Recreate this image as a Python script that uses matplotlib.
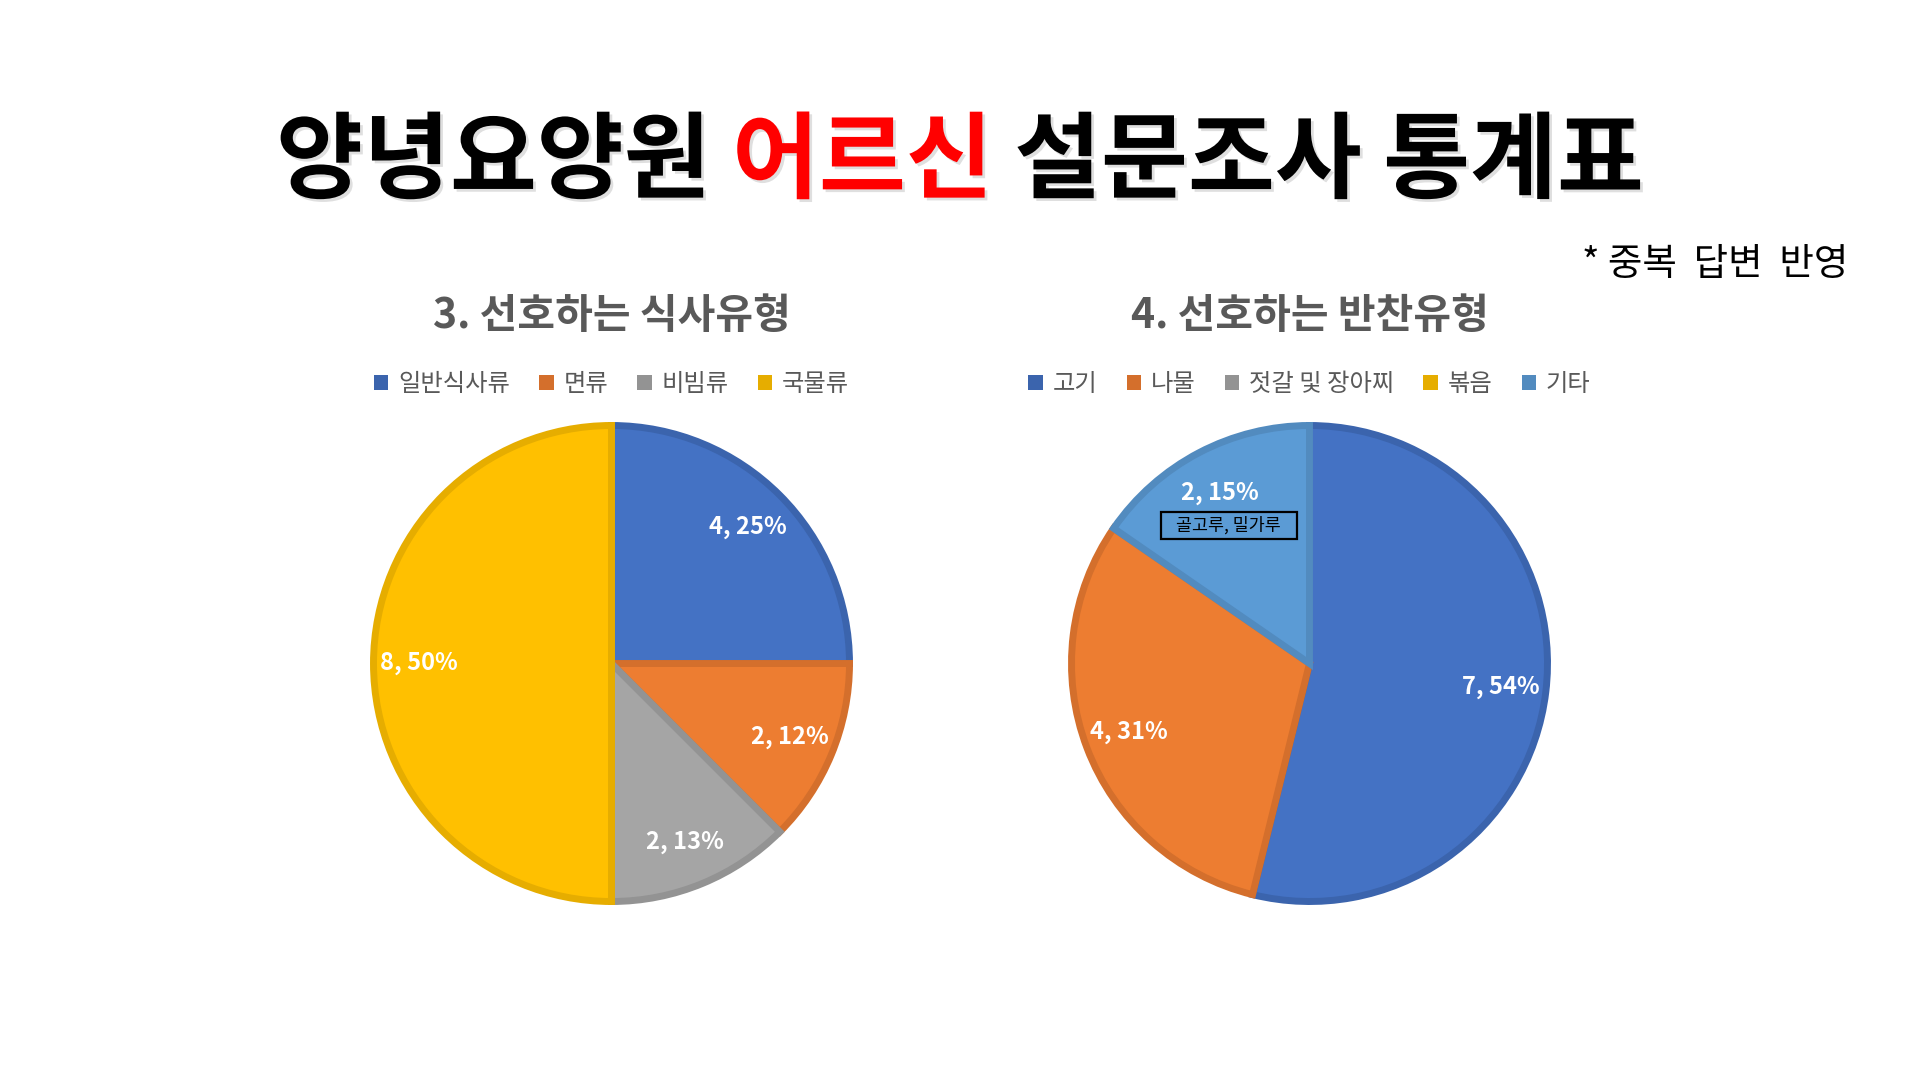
import matplotlib
matplotlib.use("Agg")
import matplotlib.pyplot as plt
import matplotlib.patheffects as pe
from matplotlib.patches import Patch, Rectangle
import numpy as np

plt.rcParams['font.family'] = ['Noto Sans CJK KR', 'DejaVu Sans']

# chart 3 - preferred meal type
meal_labels = ['일반식사류', '면류', '비빔류', '국물류']
meal_counts = [4, 2, 2, 8]
meal_pct = [25, 12, 13, 50]

# chart 4 - preferred side dish type
side_labels = ['고기', '나물', '젓갈 및 장아찌', '볶음', '기타']
side_counts = [7, 4, 0, 0, 2]
side_pct = [54, 31, 0, 0, 15]
side_note = '골고루, 밀가루'

fills = ['#4472C4', '#ED7D31', '#A5A5A5', '#FFC000', '#5B9BD5']
edges = ['#3B64AD', '#D46F2C', '#939393', '#E6AD00', '#528BBF']

W, H = 1920, 1080
fig = plt.figure(figsize=(W / 100, H / 100), dpi=100)
fig.patch.set_facecolor('white')
renderer = fig.canvas.get_renderer()

# ---- main title, three coloured pieces ----
title_parts = [('양녕요양원', 'black'), ('어르신', '#FF0000'), ('설문조사 통계표', 'black')]
full = ' '.join(p[0] for p in title_parts)
tkw = dict(fontsize=68, fontweight='black', va='center', ha='left')
ty = 1 - 163 / H

def width_of(s):
    t = fig.text(0, 0, s, **tkw)
    w = t.get_window_extent(renderer).width
    t.remove()
    return w

x0 = W / 2 - width_of(full) / 2
shadow = [pe.SimplePatchShadow(offset=(2, -2), shadow_rgbFace='#808080', alpha=0.25), pe.Normal()]
prefix = ''
for i, (word, col) in enumerate(title_parts):
    prefix = word if i == 0 else prefix + ' ' + word
    xs = x0 + width_of(prefix) - width_of(word)
    fig.text(xs / W, ty, word, color=col, path_effects=shadow, **tkw)

fig.text(1848 / W, 1 - 265 / H, '* 중복  답변  반영', fontsize=27, color='black',
         ha='right', va='center')

def draw_pie(cx, title, labels, counts, pct, note=None):
    r_px = 238
    half = 250
    ax = fig.add_axes([(cx - half) / W, (H - 663.5 - half) / H, 2 * half / W, 2 * half / H])
    lim = half / r_px
    idx = [i for i, c in enumerate(counts) if c > 0]
    wedges, _ = ax.pie([counts[i] for i in idx], colors=[fills[i] for i in idx],
                       startangle=90, counterclock=False, radius=1,
                       wedgeprops=dict(linewidth=5))
    for w, i in zip(wedges, idx):
        w.set_edgecolor(edges[i])
        ang = np.deg2rad((w.theta1 + w.theta2) / 2)
        ax.text(0.81 * np.cos(ang), 0.81 * np.sin(ang), f'{counts[i]}, {pct[i]}%',
                color='white', fontsize=17, fontweight='bold', ha='center', va='center')
    if note:
        bw, bh = 136 / r_px, 27 / r_px
        ax.add_patch(Rectangle((-0.34 - bw / 2, 0.58 - bh / 2), bw, bh,
                               fc='none', ec='black', lw=1.6, zorder=5))
        ax.text(-0.34, 0.58, note, fontsize=12.5, color='black', ha='center', va='center',
                zorder=6)
    ax.set_xlim(-lim, lim)
    ax.set_ylim(-lim, lim)
    ax.set_aspect('equal')
    ax.axis('off')

    fig.text(cx / W, 1 - 316 / H, title, fontsize=29.5, fontweight='bold', color='#595959',
             ha='center', va='center')
    handles = [Patch(facecolor=edges[i], edgecolor='none') for i in range(len(labels))]
    leg = fig.legend(handles, labels, loc='center', bbox_to_anchor=(cx / W, 1 - 384 / H),
                     ncol=len(labels), frameon=False, fontsize=17.5, handlelength=0.6,
                     handleheight=0.6, handletextpad=0.4, columnspacing=1.2)
    for t in leg.get_texts():
        t.set_color('#595959')

draw_pie(611.5, '3. 선호하는 식사유형', meal_labels, meal_counts, meal_pct)
draw_pie(1309.5, '4. 선호하는 반찬유형', side_labels, side_counts, side_pct, side_note)

fig.savefig('out.png', dpi=100, facecolor='white')
